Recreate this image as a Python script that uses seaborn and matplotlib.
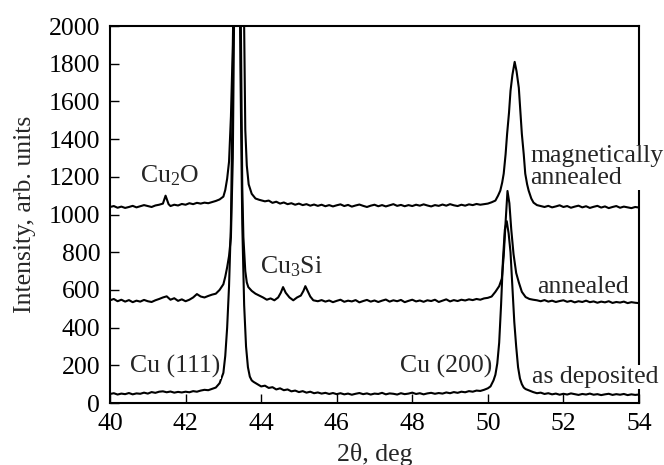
import matplotlib
matplotlib.use("Agg")
import matplotlib.pyplot as plt
import seaborn as sns

# XRD patterns (2theta in deg, intensity in arb. units)
as_deposited = [
    (40.0, 48), (40.1, 52), (40.2, 45), (40.3, 50), (40.4, 47), (40.5, 53), (40.6, 46),
    (40.7, 51), (40.8, 49), (40.9, 55), (41.0, 50), (41.1, 58), (41.2, 54), (41.3, 60),
    (41.4, 62), (41.5, 57), (41.6, 61), (41.7, 55), (41.8, 59), (41.9, 56), (42.0, 60),
    (42.1, 57), (42.2, 63), (42.3, 60), (42.4, 66), (42.5, 70), (42.6, 68), (42.7, 75),
    (42.8, 82), (42.9, 105), (43.0, 160), (43.05, 250), (43.1, 400), (43.15, 620),
    (43.2, 950), (43.25, 1700), (43.3, 3000), (43.35, 4000), (43.4, 3000), (43.45, 1800),
    (43.5, 950), (43.55, 520), (43.6, 300), (43.65, 190), (43.7, 140), (43.75, 120),
    (43.8, 112), (43.9, 100), (44.0, 88), (44.1, 92), (44.2, 80), (44.3, 84), (44.4, 72),
    (44.5, 78), (44.6, 68), (44.7, 72), (44.8, 62), (44.9, 66), (45.0, 58), (45.1, 63),
    (45.2, 55), (45.3, 60), (45.4, 52), (45.5, 56), (45.6, 50), (45.7, 54), (45.8, 48),
    (45.9, 53), (46.0, 47), (46.1, 52), (46.2, 46), (46.3, 50), (46.4, 44), (46.5, 49),
    (46.6, 53), (46.7, 47), (46.8, 51), (46.9, 45), (47.0, 50), (47.1, 48), (47.2, 54),
    (47.3, 46), (47.4, 51), (47.5, 49), (47.6, 45), (47.7, 52), (47.8, 47), (47.9, 50),
    (48.0, 55), (48.1, 48), (48.2, 52), (48.3, 46), (48.4, 51), (48.5, 54), (48.6, 49),
    (48.7, 53), (48.8, 50), (48.9, 56), (49.0, 52), (49.1, 58), (49.2, 54), (49.3, 60),
    (49.4, 57), (49.5, 63), (49.6, 60), (49.7, 66), (49.8, 64), (49.9, 70), (50.0, 78),
    (50.07, 88), (50.15, 120), (50.2, 150), (50.25, 210), (50.3, 320), (50.35, 520),
    (50.4, 760), (50.45, 920), (50.5, 965), (50.55, 900), (50.6, 800), (50.65, 620),
    (50.7, 430), (50.75, 300), (50.8, 190), (50.85, 130), (50.9, 100), (50.95, 82),
    (51.0, 74), (51.1, 66), (51.2, 58), (51.3, 52), (51.4, 55), (51.5, 48), (51.6, 52),
    (51.7, 46), (51.8, 50), (51.9, 44), (52.0, 49), (52.1, 45), (52.2, 51), (52.3, 47),
    (52.4, 43), (52.5, 48), (52.6, 45), (52.7, 50), (52.8, 44), (52.9, 47), (53.0, 42),
    (53.1, 46), (53.2, 49), (53.3, 43), (53.4, 47), (53.5, 44), (53.6, 48), (53.7, 42),
    (53.8, 46), (53.9, 43), (54.0, 45),
]

annealed = [
    (40.0, 545), (40.1, 552), (40.2, 540), (40.3, 548), (40.4, 538), (40.5, 546),
    (40.6, 535), (40.7, 543), (40.8, 538), (40.9, 547), (41.0, 540), (41.1, 536),
    (41.2, 545), (41.3, 552), (41.4, 560), (41.5, 566), (41.6, 548), (41.7, 556),
    (41.8, 542), (41.9, 550), (42.0, 540), (42.1, 548), (42.2, 560), (42.3, 578),
    (42.4, 565), (42.5, 560), (42.6, 568), (42.7, 575), (42.8, 580), (42.9, 600),
    (43.0, 630), (43.05, 670), (43.1, 720), (43.15, 780), (43.2, 880), (43.25, 1300),
    (43.3, 2400), (43.35, 3500), (43.4, 3800), (43.45, 2300), (43.5, 1150), (43.53, 880),
    (43.58, 700), (43.62, 640), (43.66, 615), (43.75, 595), (43.85, 580), (43.95, 570),
    (44.05, 560), (44.15, 548), (44.25, 555), (44.35, 545), (44.45, 560), (44.52, 585),
    (44.58, 615), (44.65, 585), (44.75, 560), (44.85, 545), (44.95, 560), (45.05, 570),
    (45.12, 595), (45.17, 620), (45.23, 595), (45.3, 565), (45.38, 545), (45.5, 540),
    (45.6, 546), (45.7, 538), (45.8, 544), (45.9, 535), (46.0, 542), (46.1, 548),
    (46.2, 537), (46.3, 543), (46.4, 539), (46.5, 546), (46.6, 534), (46.7, 541),
    (46.8, 547), (46.9, 538), (47.0, 544), (47.1, 536), (47.2, 543), (47.3, 549),
    (47.4, 538), (47.5, 545), (47.6, 540), (47.7, 547), (47.8, 535), (47.9, 542),
    (48.0, 548), (48.1, 539), (48.2, 544), (48.3, 537), (48.4, 545), (48.5, 541),
    (48.6, 548), (48.7, 536), (48.8, 543), (48.9, 550), (49.0, 539), (49.1, 546),
    (49.2, 541), (49.3, 548), (49.4, 544), (49.5, 550), (49.6, 546), (49.7, 552),
    (49.8, 548), (49.9, 555), (50.0, 558), (50.1, 565), (50.2, 590), (50.25, 605),
    (50.3, 620), (50.37, 660), (50.42, 780), (50.47, 960), (50.52, 1125), (50.57, 1060),
    (50.62, 920), (50.68, 790), (50.75, 690), (50.82, 640), (50.9, 590), (51.0, 562),
    (51.1, 552), (51.2, 548), (51.3, 545), (51.4, 540), (51.5, 546), (51.6, 538),
    (51.7, 543), (51.8, 536), (51.9, 541), (52.0, 545), (52.1, 537), (52.2, 542),
    (52.3, 534), (52.4, 540), (52.5, 536), (52.6, 543), (52.7, 535), (52.8, 539),
    (52.9, 532), (53.0, 538), (53.1, 534), (53.2, 540), (53.3, 531), (53.4, 536),
    (53.5, 533), (53.6, 538), (53.7, 530), (53.8, 535), (53.9, 532), (54.0, 530),
]

magnetically_annealed = [
    (40.0, 1040), (40.1, 1045), (40.2, 1036), (40.3, 1042), (40.4, 1035), (40.5, 1040),
    (40.6, 1046), (40.7, 1038), (40.8, 1044), (40.9, 1050), (41.0, 1045), (41.1, 1040),
    (41.2, 1048), (41.3, 1052), (41.4, 1058), (41.47, 1100), (41.55, 1055), (41.6, 1045),
    (41.7, 1052), (41.8, 1048), (41.9, 1056), (42.0, 1052), (42.1, 1060), (42.2, 1055),
    (42.3, 1062), (42.4, 1058), (42.5, 1063), (42.6, 1060), (42.7, 1066), (42.8, 1072),
    (42.9, 1080), (43.0, 1095), (43.05, 1130), (43.1, 1190), (43.15, 1280), (43.2, 1520),
    (43.25, 1900), (43.3, 2600), (43.4, 3500), (43.5, 2600), (43.55, 2000), (43.58, 1450),
    (43.62, 1260), (43.67, 1160), (43.75, 1110), (43.85, 1085), (43.95, 1078),
    (44.1, 1070), (44.2, 1074), (44.3, 1062), (44.4, 1068), (44.5, 1058), (44.6, 1064),
    (44.7, 1055), (44.8, 1060), (44.9, 1052), (45.0, 1058), (45.1, 1050), (45.2, 1055),
    (45.3, 1047), (45.4, 1053), (45.5, 1046), (45.6, 1052), (45.7, 1044), (45.8, 1050),
    (45.9, 1043), (46.0, 1049), (46.1, 1054), (46.2, 1045), (46.3, 1051), (46.4, 1042),
    (46.5, 1048), (46.6, 1053), (46.7, 1046), (46.8, 1040), (46.9, 1047), (47.0, 1052),
    (47.1, 1044), (47.2, 1050), (47.3, 1043), (47.4, 1049), (47.5, 1055), (47.6, 1046),
    (47.7, 1051), (47.8, 1044), (47.9, 1050), (48.0, 1045), (48.1, 1052), (48.2, 1047),
    (48.3, 1054), (48.4, 1048), (48.5, 1043), (48.6, 1050), (48.7, 1046), (48.8, 1053),
    (48.9, 1047), (49.0, 1055), (49.1, 1049), (49.2, 1045), (49.3, 1052), (49.4, 1047),
    (49.5, 1054), (49.6, 1050), (49.7, 1056), (49.8, 1052), (49.9, 1055), (50.0, 1058),
    (50.1, 1065), (50.2, 1074), (50.27, 1100), (50.33, 1127), (50.38, 1170), (50.42, 1217),
    (50.47, 1320), (50.51, 1428), (50.56, 1540), (50.6, 1656), (50.65, 1740), (50.71, 1810),
    (50.76, 1760), (50.82, 1672), (50.86, 1550), (50.9, 1428), (50.95, 1320), (50.99, 1217),
    (51.04, 1160), (51.08, 1127), (51.15, 1085), (51.21, 1063), (51.3, 1050), (51.4, 1045),
    (51.5, 1040), (51.6, 1046), (51.7, 1038), (51.8, 1043), (51.9, 1049), (52.0, 1040),
    (52.1, 1045), (52.2, 1036), (52.3, 1042), (52.4, 1047), (52.5, 1038), (52.6, 1044),
    (52.7, 1035), (52.8, 1041), (52.9, 1046), (53.0, 1037), (53.1, 1043), (53.2, 1034),
    (53.3, 1040), (53.4, 1045), (53.5, 1036), (53.6, 1042), (53.7, 1038), (53.8, 1034),
    (53.9, 1040), (54.0, 1037),
]

x_ticks = [40, 42, 44, 46, 48, 50, 52, 54]
y_ticks = [0, 200, 400, 600, 800, 1000, 1200, 1400, 1600, 1800, 2000]

sns.set_style("ticks")
plt.rcParams["font.family"] = ["Liberation Serif", "DejaVu Serif"]
plt.rcParams["mathtext.fontset"] = "custom"
plt.rcParams["mathtext.rm"] = "Liberation Serif"
plt.rcParams["mathtext.default"] = "rm"

fig = plt.figure(figsize=(6.64, 4.65), dpi=100)
ax = fig.add_axes([0.1657, 0.1333, 0.7966, 0.8107])

for curve in [as_deposited, annealed, magnetically_annealed]:
    xs = [p[0] for p in curve]
    ys = [p[1] for p in curve]
    sns.lineplot(x=xs, y=ys, sort=False, estimator=None, color="black", lw=1.5, ax=ax)

ax.set_xlim(40, 54)
ax.set_ylim(0, 2000)
ax.set_xticks(x_ticks)
ax.set_yticks(y_ticks)
ax.tick_params(direction="in", length=6.5, width=1, labelsize=18.5, pad=7,
               top=False, right=False, colors="black")
for s in ax.spines.values():
    s.set_linewidth(1.5)
    s.set_color("black")

ax.set_xlabel("2θ, deg", fontsize=18.5, labelpad=6)
ax.set_ylabel("Intensity, arb. units", fontsize=18.5, labelpad=9)

box = dict(facecolor="white", edgecolor="none", pad=0.5)
fs = 18.5
ax.text(40.79, 1170, "Cu$_2$O", fontsize=fs)
ax.text(43.97, 690, "Cu$_3$Si", fontsize=fs, bbox=box)
ax.text(40.53, 160, "Cu (111)", fontsize=fs, bbox=box)
ax.text(50.12, 160, "Cu (200)", fontsize=fs, ha="right", bbox=box)
ax.text(51.18, 106, "as deposited", fontsize=fs, bbox=box, clip_on=False, zorder=5)
ax.text(51.31, 582, "annealed", fontsize=fs, bbox=box, zorder=5)
ax.text(51.13, 1160, "magnetically\nannealed", fontsize=fs, linespacing=1.0,
        bbox=box, clip_on=False, zorder=5)

fig.savefig("out.png", dpi=100)
